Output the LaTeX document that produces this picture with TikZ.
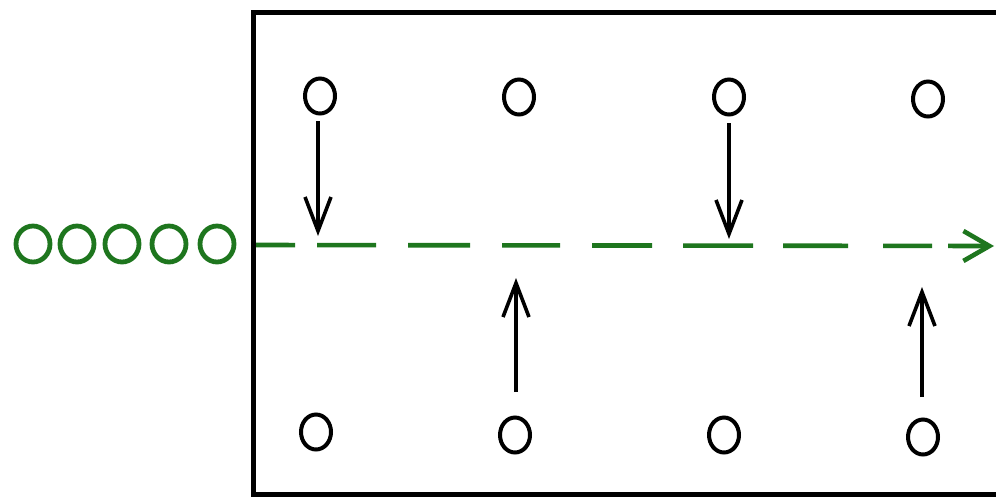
\documentclass[tikz,border=0pt]{standalone}
\usetikzlibrary{arrows.meta,shapes.geometric}
\definecolor{grn}{RGB}{30,118,30}
\begin{document}
\begin{tikzpicture}[x=1pt,y=-1pt,
  bc/.style={draw=black,line width=4pt,ellipse,minimum width=30pt,minimum height=35pt,inner sep=0pt},
  gc/.style={draw=grn,line width=4.8pt,ellipse,minimum width=34pt,minimum height=36pt,inner sep=0pt},
  arr/.style={draw=black,line width=3.4pt,-{Straight Barb[length=34pt,width=26pt,line width=3.6pt]}},
  flow/.style={draw=grn,line width=4.6pt,
    dash pattern=on 39pt off 22pt on 59pt off 32pt on 62pt off 32pt on 58pt off 32pt on 60pt off 31pt on 70pt off 30pt on 65pt off 35pt on 49pt off 16pt on 60pt off 10pt,
    -{Straight Barb[length=26pt,width=30pt,line width=4.6pt]}}]
\useasboundingbox (0,0) rectangle (996,496);
\fill[white] (0,0) rectangle (996,496);
% box (open to the right)
\draw[line width=5pt] (996,12.5) -- (253.5,12.5) -- (253.5,494) -- (996,494);
% top circles
\node[bc] (t1) at (320,96) {};
\node[bc] (t2) at (519,97) {};
\node[bc] (t3) at (729,97) {};
\node[bc] (t4) at (928,99) {};
% bottom circles
\node[bc] (b1) at (316,432) {};
\node[bc] (b2) at (515,435) {};
\node[bc] (b3) at (724,435) {};
\node[bc] (b4) at (923,437) {};
% green queue
\node[gc] (g1) at (33,244) {};
\node[gc] (g2) at (77,244) {};
\node[gc] (g3) at (122,244) {};
\node[gc] (g4) at (169,244) {};
\node[gc] (g5) at (217,244) {};
% flow line
\coordinate (fs) at (256,245);
\coordinate (fe) at (994,246);
\draw[flow] (fs) -- (fe);
% arrow ends
\coordinate (a1s) at (318,121);
\coordinate (a1e) at (318,236);
\coordinate (a3s) at (729,123);
\coordinate (a3e) at (729,239);
\coordinate (a2s) at (516,392);
\coordinate (a2e) at (516,278);
\coordinate (a4s) at (922,397);
\coordinate (a4e) at (922,287);
\draw[arr] (a1s) -- (a1e);
\draw[arr] (a3s) -- (a3e);
\draw[arr] (a2s) -- (a2e);
\draw[arr] (a4s) -- (a4e);
\end{tikzpicture}
\end{document}
